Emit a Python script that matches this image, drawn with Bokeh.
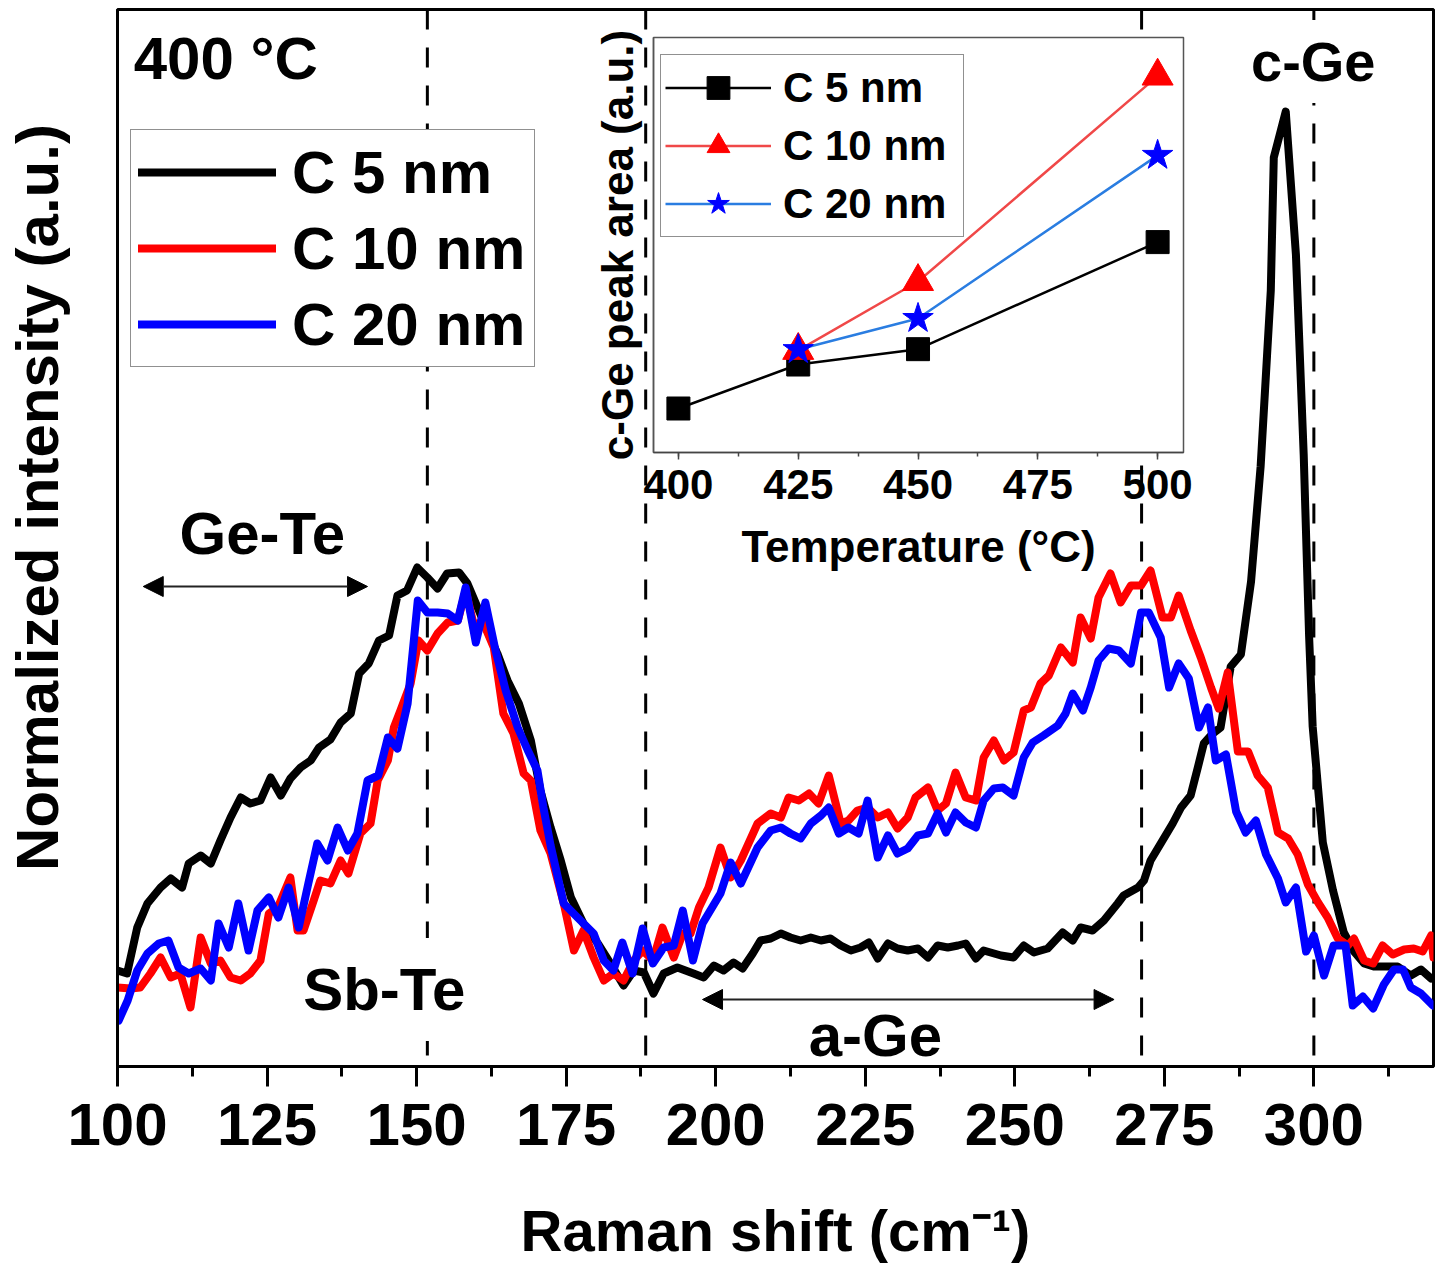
from math import pi
from bokeh.plotting import figure
from bokeh.models import (Range1d, Span, Label, Arrow, NormalHead, Legend, LegendItem,
                          SingleIntervalTicker, FixedTicker)
from bokeh.embed import file_html
from bokeh.resources import INLINE

FONT = "Liberation Sans"

# ---------------- Raman spectra (400 °C) ----------------
c5_shift = [100.0, 101.6, 103.3, 105.0, 107.2, 108.9, 110.8, 111.9, 113.9, 115.6,
            117.2, 118.9, 120.6, 122.2, 123.9, 125.6, 127.3, 128.9, 130.6, 132.3,
            133.7, 135.6, 137.3, 139.0, 140.4, 142.0, 143.7, 145.4, 146.8, 148.4,
            150.1, 151.8, 153.5, 155.1, 157.1, 158.5, 160.2, 161.8, 163.5, 165.2,
            167.1, 169.1, 170.7, 172.4, 174.1, 175.8, 177.9, 180.3, 182.4, 184.6,
            186.3, 188.0, 189.6, 191.3, 193.6, 196.3, 198.0, 199.7, 201.3, 203.0,
            204.5, 206.2, 207.5, 209.2, 210.9, 212.5, 214.2, 215.9, 217.6, 219.2,
            220.9, 222.6, 224.2, 225.6, 227.1, 228.8, 230.4, 232.1, 233.8, 235.5,
            237.1, 238.8, 240.5, 241.8, 243.5, 244.8, 247.7, 249.8, 251.5, 253.2,
            255.5, 258.0, 259.7, 261.0, 263.0, 264.9, 267.2, 268.2, 270.6, 271.6,
            272.7, 274.4, 276.4, 277.8, 279.4, 280.6, 281.6, 283.1, 284.4, 286.1,
            287.8, 289.5, 291.1, 292.8, 293.3, 295.3, 297.0, 298.3, 299.2, 299.8,
            301.5, 303.2, 305.0, 306.7, 308.4, 310.0, 312.4, 314.0, 316.2, 317.9,
            319.6]
c5_int = [9.6, 9.3, 13.9, 16.3, 17.9, 18.8, 17.9, 20.3, 21.1, 20.3,
          22.6, 24.9, 26.9, 26.3, 26.6, 28.9, 27.1, 28.8, 29.9, 30.6,
          31.9, 32.7, 34.4, 35.3, 39.3, 40.3, 42.6, 43.1, 47.1, 47.6,
          49.9, 48.9, 47.8, 49.3, 49.4, 48.3, 45.9, 43.6, 41.3, 38.6,
          36.3, 32.6, 27.6, 23.9, 20.6, 16.9, 14.3, 12.3, 10.3, 8.1,
          9.6, 9.4, 7.3, 9.3, 9.9, 9.3, 8.9, 10.1, 9.6, 10.4,
          9.8, 11.3, 12.6, 12.8, 13.3, 12.9, 12.6, 12.9, 12.6, 12.8,
          12.1, 11.6, 11.9, 12.4, 10.8, 12.3, 11.8, 11.6, 11.8, 10.9,
          12.1, 11.9, 12.1, 12.3, 10.8, 11.6, 11.1, 10.9, 12.1, 11.4,
          11.8, 13.4, 12.6, 13.9, 13.6, 14.6, 16.3, 17.1, 17.9, 18.6,
          20.6, 22.3, 24.3, 25.9, 27.1, 29.9, 32.3, 33.3, 33.9, 40.0,
          41.2, 48.5, 60.0, 77.6, 90.9, 95.5, 81.2, 61.2, 43.1, 34.0,
          22.4, 17.6, 13.4, 11.5, 10.3, 10.0, 10.0, 10.0, 9.1, 9.7,
          8.8]

c10_shift = [100.0, 102.2, 103.8, 105.5, 107.2, 108.9, 110.5, 112.2, 113.9, 115.6,
             117.2, 118.9, 120.6, 122.2, 123.9, 125.3, 126.8, 128.9, 130.1, 131.1,
             132.8, 133.9, 135.6, 137.3, 138.6, 140.6, 142.3, 143.5, 145.2, 146.2,
             147.3, 149.0, 150.3, 151.8, 153.5, 155.2, 156.9, 158.2, 159.5, 161.2,
             162.9, 164.5, 166.2, 167.9, 169.1, 170.7, 172.4, 174.6, 176.3, 177.9,
             179.6, 181.3, 182.9, 184.6, 186.3, 187.8, 189.5, 191.1, 193.0, 194.5,
             195.8, 197.2, 198.8, 200.8, 202.5, 204.2, 207.0, 209.2, 210.9, 212.2,
             213.9, 215.6, 217.2, 218.9, 220.9, 222.2, 223.7, 225.4, 227.1, 228.8,
             230.4, 232.1, 233.4, 235.5, 237.1, 238.5, 240.1, 241.8, 243.5, 244.8,
             246.5, 248.2, 249.8, 251.5, 252.7, 254.3, 255.7, 257.7, 259.7, 261.0,
             262.7, 264.0, 266.0, 267.7, 269.4, 271.1, 272.7, 274.7, 276.1, 277.4,
             279.4, 281.1, 282.8, 284.1, 285.6, 287.3, 289.0, 290.6, 292.3, 294.0,
             295.7, 297.3, 299.0, 300.7, 302.3, 304.0, 305.7, 306.7, 308.4, 309.9,
             311.5, 313.2, 315.1, 316.7, 318.2, 319.6, 320.0]
c10_int = [7.9, 7.8, 7.9, 9.3, 10.9, 8.9, 9.3, 5.9, 12.9, 10.3,
           10.6, 8.9, 8.6, 9.3, 10.6, 15.3, 15.9, 18.9, 13.6, 13.6,
           16.6, 18.6, 18.3, 20.6, 19.3, 23.3, 24.3, 28.6, 30.6, 33.9,
           35.6, 38.3, 42.6, 41.6, 43.3, 44.4, 44.6, 47.6, 44.3, 44.3,
           41.9, 35.3, 33.3, 29.3, 28.6, 23.6, 21.3, 16.3, 11.6, 13.6,
           10.9, 8.6, 9.3, 8.6, 10.6, 11.6, 10.6, 13.9, 10.9, 13.3,
           13.3, 15.9, 17.9, 21.9, 18.9, 20.6, 24.3, 25.3, 24.9, 26.9,
           26.6, 27.3, 26.3, 29.1, 24.3, 24.6, 25.6, 25.9, 24.9, 25.4,
           23.8, 24.9, 26.9, 27.9, 25.6, 26.3, 29.4, 26.9, 26.6, 30.9,
           32.6, 30.6, 31.4, 35.6, 35.9, 38.3, 39.1, 41.9, 40.4, 44.9,
           42.8, 46.9, 49.3, 46.4, 48.1, 48.1, 49.6, 44.9, 44.9, 47.1,
           43.6, 40.9, 37.9, 35.8, 39.4, 31.5, 31.5, 29.1, 27.9, 23.4,
           22.8, 21.2, 18.2, 16.4, 14.9, 12.8, 12.1, 12.8, 10.6, 10.3,
           12.1, 11.2, 11.7, 11.8, 11.5, 13.1, 10.9]

c20_shift = [100.2, 101.7, 103.3, 105.0, 106.9, 108.5, 110.2, 111.9, 113.9, 115.6,
             116.9, 118.6, 120.2, 121.9, 123.4, 125.3, 126.9, 128.6, 130.3, 131.9,
             133.4, 135.1, 136.8, 138.5, 140.1, 141.8, 143.6, 145.2, 146.8, 148.5,
             150.2, 151.8, 153.5, 155.2, 156.9, 158.2, 159.9, 161.5, 163.2, 164.9,
             166.9, 168.6, 170.2, 171.2, 172.4, 174.6, 176.9, 179.6, 181.3, 182.9,
             184.4, 186.1, 187.8, 189.5, 191.3, 193.0, 194.5, 196.2, 197.8, 200.8,
             202.5, 204.2, 207.0, 209.2, 210.9, 212.5, 214.2, 215.9, 217.6, 218.9,
             220.6, 222.2, 223.9, 225.4, 227.1, 228.8, 230.4, 232.1, 233.8, 235.5,
             237.1, 238.5, 240.1, 241.8, 243.5, 244.8, 246.5, 248.0, 249.8, 251.5,
             253.0, 254.8, 257.2, 258.5, 259.7, 261.4, 262.7, 264.0, 265.7, 267.4,
             269.4, 271.1, 272.4, 274.4, 275.8, 277.4, 279.1, 280.8, 282.3, 283.6,
             285.3, 287.0, 288.6, 290.3, 292.0, 294.0, 295.3, 297.0, 298.7, 300.0,
             301.7, 303.3, 305.3, 306.5, 308.2, 309.9, 311.7, 313.4, 314.9, 316.2,
             317.9, 319.9]
c20_int = [4.6, 6.6, 9.6, 11.3, 12.3, 12.6, 9.9, 9.3, 9.8, 8.6,
           14.3, 11.9, 16.3, 11.6, 15.6, 16.9, 14.9, 17.9, 13.9, 18.3,
           22.3, 20.6, 23.9, 21.6, 23.3, 28.6, 29.1, 32.9, 31.8, 36.3,
           46.6, 45.4, 45.4, 45.3, 44.6, 47.9, 42.4, 46.4, 41.6, 37.6,
           33.9, 31.6, 29.6, 25.9, 22.1, 16.3, 14.9, 13.3, 10.6, 9.6,
           12.4, 9.3, 13.8, 10.3, 11.9, 12.1, 15.6, 10.6, 14.3, 17.3,
           20.4, 18.3, 21.9, 23.6, 23.9, 23.3, 22.8, 24.3, 25.1, 25.9,
           23.3, 23.9, 23.3, 26.6, 20.9, 23.1, 21.3, 21.8, 23.1, 23.3,
           25.3, 23.4, 25.4, 24.4, 23.9, 26.6, 27.8, 27.9, 27.1, 30.9,
           32.4, 33.1, 34.1, 35.3, 37.3, 35.6, 37.9, 40.6, 41.8, 41.6,
           40.3, 45.4, 45.4, 42.9, 37.9, 40.3, 38.8, 33.9, 35.9, 30.6,
           31.2, 25.5, 23.4, 24.6, 21.2, 18.8, 16.4, 17.9, 11.5, 13.1,
           9.1, 12.1, 12.1, 6.1, 7.0, 5.8, 8.2, 9.7, 9.7, 7.9,
           7.3, 6.1]

peak_positions = [151.8, 188.3, 271.2, 300.0]

# ---------------- inset: c-Ge peak area vs temperature ----------------
temp_c5 = [400, 425, 450, 500]
area_c5 = [1.06, 2.12, 2.49, 5.07]
temp_c10 = [425, 450, 500]
area_c10 = [2.46, 4.12, 9.07]
temp_c20 = [425, 450, 500]
area_c20 = [2.48, 3.23, 7.16]

MAIN_W, MAIN_H = 1440, 1270

# ================= main figure =================
p = figure(width=MAIN_W, height=MAIN_H, x_range=Range1d(100, 320), y_range=Range1d(0, 105.7),
           output_backend="svg", toolbar_location=None, title=None,
           min_border_left=117, min_border_right=7, min_border_top=9, min_border_bottom=204,
           background_fill_color="white", border_fill_color="white")
p.outline_line_color = "black"
p.outline_line_width = 3
p.xgrid.visible = False
p.ygrid.visible = False

ax = p.xaxis[0]
ax.ticker = SingleIntervalTicker(interval=25, num_minor_ticks=2)
ax.axis_line_width = 3
ax.major_tick_line_width = 3
ax.minor_tick_line_width = 3
ax.major_tick_out = 20
ax.major_tick_in = 0
ax.minor_tick_out = 10
ax.minor_tick_in = 0
ax.major_label_text_font = FONT
ax.major_label_text_font_style = "bold"
ax.major_label_text_font_size = "60px"
ax.major_label_text_color = "black"
ax.major_label_standoff = 17
ax.axis_label = "Raman shift (cm⁻¹)"
ax.axis_label_text_font = FONT
ax.axis_label_text_font_style = "bold"
ax.axis_label_text_font_size = "58px"
ax.axis_label_text_color = "black"
ax.axis_label_standoff = 50

ay = p.yaxis[0]
ay.ticker = FixedTicker(ticks=[])
ay.axis_line_width = 3
ay.major_tick_out = 0
ay.minor_tick_out = 0

for pos in peak_positions:
    p.add_layout(Span(location=pos, dimension="height", line_color="black", line_width=3,
                      line_dash="20 18", level="underlay"))

r5 = p.line(c5_shift, c5_int, line_color="black", line_width=8, line_join="round", line_cap="round")
r10 = p.line(c10_shift, c10_int, line_color="#ff0000", line_width=8, line_join="round", line_cap="round")
r20 = p.line(c20_shift, c20_int, line_color="#0000ff", line_width=8, line_join="round", line_cap="round")

leg = Legend(items=[LegendItem(label="C 5 nm", renderers=[r5]),
                    LegendItem(label="C 10 nm", renderers=[r10]),
                    LegendItem(label="C 20 nm", renderers=[r20])],
             location=(13, 699), orientation="vertical",
             label_text_font=FONT, label_text_font_style="bold", label_text_font_size="60px",
             label_text_color="black",
             glyph_width=138, glyph_height=70, label_height=70, label_width=235,
             label_standoff=16, padding=7, spacing=6, margin=0,
             border_line_color="#222222", border_line_width=1.5,
             background_fill_color="white", background_fill_alpha=1.0)
p.add_layout(leg)

def txt(x, y, s, size="60px", align="center", **kw):
    return Label(x=x, y=y, text=s, text_font=FONT, text_font_style="bold", text_font_size=size,
                 text_color="black", text_align=align, text_baseline="middle", **kw)

p.add_layout(txt(102.7, 100.8, "400 °C", align="left"))
p.add_layout(txt(124.2, 53.3, "Ge-Te"))
p.add_layout(txt(144.6, 7.7, "Sb-Te", background_fill_color="white", padding=18))
p.add_layout(txt(226.7, 3.1, "a-Ge"))
p.add_layout(txt(299.9, 100.5, "c-Ge", size="56px", background_fill_color="white", padding=10))

def head():
    return NormalHead(size=20, fill_color="black", line_color="black", line_width=1)

p.add_layout(Arrow(start=head(), end=head(), x_start=104.3, y_start=48.0, x_end=141.8, y_end=48.0,
                   line_color="#222222", line_width=2))
p.add_layout(Arrow(start=head(), end=head(), x_start=197.8, y_start=6.7, x_end=266.6, y_end=6.7,
                   line_color="#222222", line_width=2))

# ================= inset figure (overlaid on the main one) =================
IN_W, IN_H = 610, 570
OFF_X, OFF_Y = 583, 27
q = figure(width=IN_W, height=IN_H, x_range=Range1d(394.8, 505.4), y_range=Range1d(0, 10),
           output_backend="svg", toolbar_location=None, title=None,
           min_border_left=70, min_border_right=10, min_border_top=10, min_border_bottom=145,
           background_fill_color="white", border_fill_color=None,
           margin=(-(MAIN_H - OFF_Y), 0, MAIN_H - OFF_Y - IN_H, OFF_X))
q.outline_line_color = "#555555"
q.outline_line_width = 1.5
q.xgrid.visible = False
q.ygrid.visible = False

qx = q.xaxis[0]
qx.ticker = SingleIntervalTicker(interval=25, num_minor_ticks=2)
qx.axis_line_color = "#444444"
qx.axis_line_width = 1.5
qx.major_tick_line_color = "#444444"
qx.minor_tick_line_color = "#444444"
qx.major_tick_line_width = 1.5
qx.minor_tick_line_width = 1.5
qx.major_tick_out = 7
qx.major_tick_in = 0
qx.minor_tick_out = 4
qx.minor_tick_in = 0
qx.major_label_text_font = FONT
qx.major_label_text_font_style = "bold"
qx.major_label_text_font_size = "42px"
qx.major_label_text_color = "black"
qx.major_label_standoff = 10
qx.axis_label = "Temperature (°C)"
qx.axis_label_text_font = FONT
qx.axis_label_text_font_style = "bold"
qx.axis_label_text_font_size = "44px"
qx.axis_label_text_color = "black"
qx.axis_label_standoff = 20

qy = q.yaxis[0]
qy.ticker = FixedTicker(ticks=[])
qy.axis_line_color = "#555555"
qy.axis_line_width = 1.5
qy.major_tick_out = 0
qy.minor_tick_out = 0
qy.axis_label = "c-Ge peak area (a.u.)"
qy.axis_label_text_font = FONT
qy.axis_label_text_font_style = "bold"
qy.axis_label_text_font_size = "44px"
qy.axis_label_text_color = "black"
qy.axis_label_standoff = 12

l5 = q.line(temp_c5, area_c5, line_color="black", line_width=2.5)
m5 = q.scatter(temp_c5, area_c5, marker="square", size=23, color="black")
l10 = q.line(temp_c10, area_c10, line_color="#f04848", line_width=2.5)
m10 = q.scatter(temp_c10, area_c10, marker="triangle", size=31, color="#ff0000")
l20 = q.line(temp_c20, area_c20, line_color="#2a7de1", line_width=2.5)
m20 = q.scatter(temp_c20, area_c20, marker="star", size=32, color="#0000ff")

qleg = Legend(items=[LegendItem(label="C 5 nm", renderers=[l5, m5]),
                     LegendItem(label="C 10 nm", renderers=[l10, m10]),
                     LegendItem(label="C 20 nm", renderers=[l20, m20])],
              location=(7, 215), orientation="vertical",
              label_text_font=FONT, label_text_font_style="bold", label_text_font_size="42px",
              label_text_color="black",
              glyph_width=106, glyph_height=57, label_height=57, label_width=176,
              label_standoff=12, padding=4, spacing=1, margin=0,
              border_line_color="#222222", border_line_width=1.5,
              background_fill_color="white", background_fill_alpha=1.0)
q.add_layout(qleg)

# ================= y-axis title of the main plot (transparent overlay) =================
T_W, T_H = 73, 800
T_TOP = 97
t = figure(width=T_W, height=T_H, x_range=Range1d(0, 1), y_range=Range1d(0, 1),
           output_backend="svg", toolbar_location=None, title=None,
           x_axis_location=None, y_axis_location=None,
           min_border_left=0, min_border_right=0, min_border_top=0, min_border_bottom=0,
           background_fill_color=None, border_fill_color=None, outline_line_color=None,
           margin=(-(MAIN_H - T_TOP), 0, MAIN_H - T_TOP - T_H, 0))
t.xgrid.visible = False
t.ygrid.visible = False
t.add_layout(Label(x=0.5, y=0.5, text="Normalized intensity (a.u.)", angle=pi / 2,
                   text_font=FONT, text_font_style="bold", text_font_size="60px",
                   text_color="black", text_align="center", text_baseline="middle"))

open("out.html", "w").write(file_html([p, q, t], INLINE))
